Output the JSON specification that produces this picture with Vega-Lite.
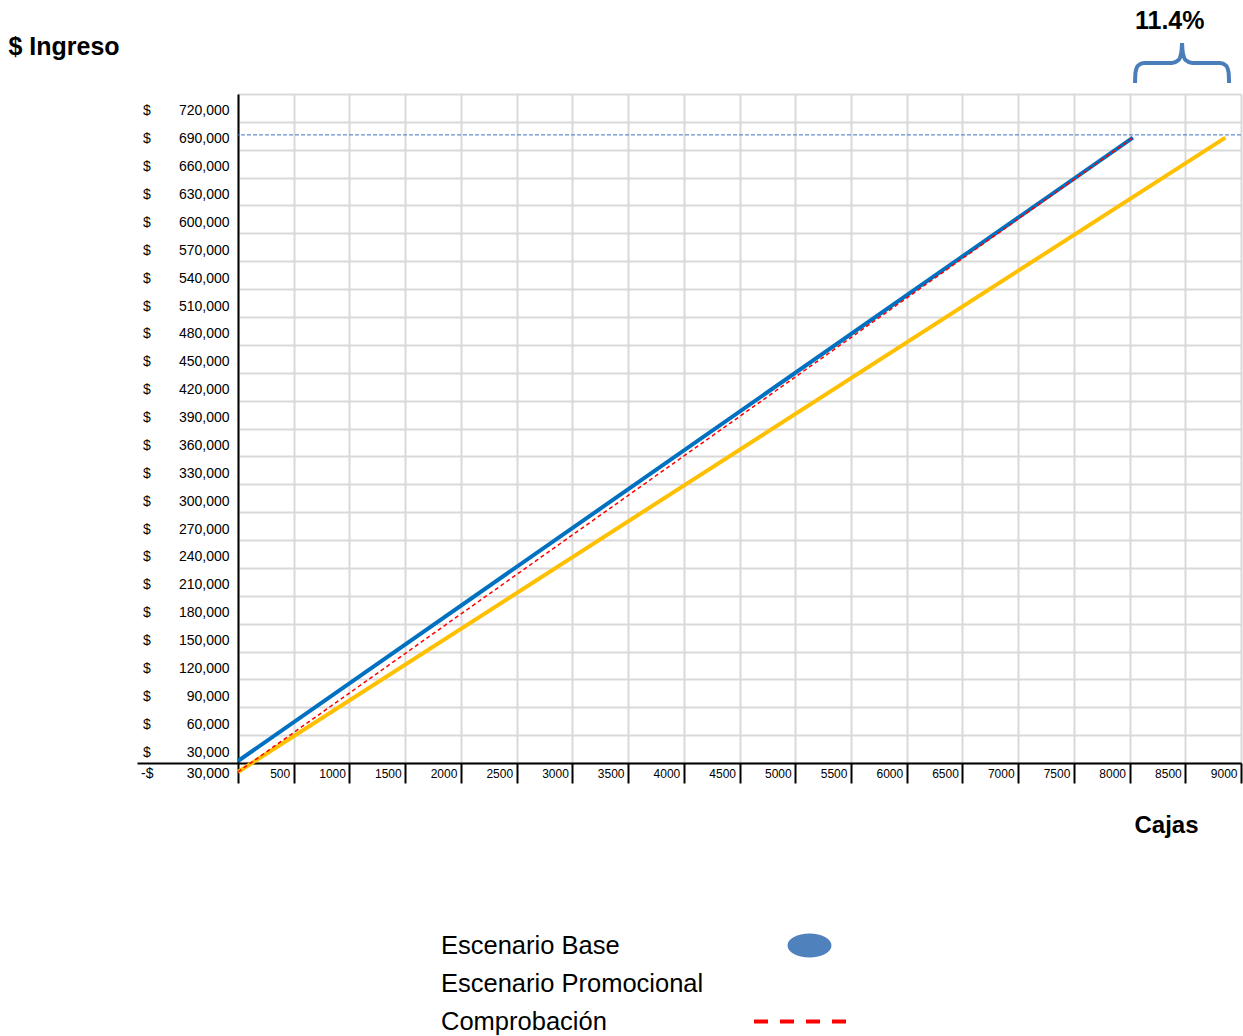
{
  "$schema": "https://vega.github.io/schema/vega-lite/v6.json",
  "autosize": {"type": "none"},
  "padding": {"left": 238, "top": 94, "right": 2, "bottom": 273},
  "width": 1003,
  "height": 669,
  "background": "white",
  "config": {
    "font": "Liberation Sans",
    "view": {"stroke": null},
    "axis": {"labelOverlap": false},
    "legend": {
      "title": null,
      "orient": "none",
      "padding": 0,
      "labelFont": "Liberation Sans",
      "labelFontSize": 25.5,
      "labelColor": "black",
      "labelLimit": 500,
      "labelAlign": "left",
      "symbolSize": 8649,
      "symbolStrokeWidth": 4
    }
  },
  "title": {
    "text": "11.4%",
    "anchor": "start",
    "frame": "group",
    "dx": 897,
    "offset": 0,
    "font": "Liberation Sans",
    "fontSize": 25,
    "fontWeight": "bold",
    "color": "black"
  },
  "datasets": {
    "lineas": [
      {"serie": "Escenario Base", "cajas": 0, "ingreso": 32150},
      {"serie": "Escenario Base", "cajas": 8030, "ingreso": 703000},
      {"serie": "Escenario Promocional", "cajas": 0, "ingreso": 20300},
      {"serie": "Escenario Promocional", "cajas": 8860, "ingreso": 703000},
      {"serie": "Comprobación", "cajas": 0, "ingreso": 20300},
      {"serie": "Comprobación", "cajas": 8030, "ingreso": 703000}
    ],
    "referencia": [{"ingreso": 706000}],
    "llave": [
      {"lado": "izq", "cajas": 8049, "ingreso": 761800},
      {"lado": "izq", "cajas": 8053, "ingreso": 773000},
      {"lado": "izq", "cajas": 8075, "ingreso": 780500},
      {"lado": "izq", "cajas": 8130, "ingreso": 783300},
      {"lado": "izq", "cajas": 8380, "ingreso": 783300},
      {"lado": "izq", "cajas": 8440, "ingreso": 786500},
      {"lado": "izq", "cajas": 8465, "ingreso": 795000},
      {"lado": "izq", "cajas": 8471, "ingreso": 804900},
      {"lado": "der", "cajas": 8471, "ingreso": 804900},
      {"lado": "der", "cajas": 8477, "ingreso": 795000},
      {"lado": "der", "cajas": 8502, "ingreso": 786500},
      {"lado": "der", "cajas": 8562, "ingreso": 783300},
      {"lado": "der", "cajas": 8812, "ingreso": 783300},
      {"lado": "der", "cajas": 8867, "ingreso": 780500},
      {"lado": "der", "cajas": 8889, "ingreso": 773000},
      {"lado": "der", "cajas": 8893, "ingreso": 761800}
    ]
  },
  "layer": [
    {
      "data": {"name": "lineas"},
      "transform": [{"filter": "datum.serie !== 'Comprobación'"}],
      "mark": {"type": "line", "strokeWidth": 4, "strokeCap": "butt"},
      "encoding": {
        "x": {
          "field": "cajas",
          "type": "quantitative",
          "scale": {"domain": [0, 9000], "nice": false, "zero": false},
          "axis": {
            "values": [0, 500, 1000, 1500, 2000, 2500, 3000, 3500, 4000, 4500, 5000, 5500, 6000, 6500, 7000, 7500, 8000, 8500, 9000],
            "tickCount": 100,
            "format": "d",
            "domain": true,
            "domainColor": "black",
            "domainWidth": 2,
            "grid": true,
            "gridColor": "#D9D9D9",
            "gridWidth": 2,
            "ticks": true,
            "tickColor": "black",
            "tickWidth": 2,
            "tickSize": 20,
            "labelAlign": "right",
            "labelBaseline": "middle",
            "labelPadding": -10,
            "labelOffset": {"condition": {"test": "datum.value === 0", "value": -9}, "value": -4},
            "labelFont": "Liberation Sans",
            "labelFontSize": {"condition": {"test": "datum.value === 0", "value": 14}, "value": 12},
            "labelColor": "black",
            "labelExpr": "datum.value === 0 ? '-$\u2003\u2003\u2009\u2006' + '30,000' : datum.label",
            "labelOverlap": false,
            "labelFlush": false,
            "labelBound": false,
            "title": "Cajas",
            "titleX": 928,
            "titleY": 62,
            "titleAlign": "center",
            "titleBaseline": "middle",
            "titleFont": "Liberation Sans",
            "titleFontSize": 24,
            "titleFontWeight": "bold",
            "titleColor": "black"
          }
        },
        "y": {
          "field": "ingreso",
          "type": "quantitative",
          "scale": {"domain": [30000, 750000], "nice": false, "zero": false},
          "axis": {
            "values": [30000, 60000, 90000, 120000, 150000, 180000, 210000, 240000, 270000, 300000, 330000, 360000, 390000, 420000, 450000, 480000, 510000, 540000, 570000, 600000, 630000, 660000, 690000, 720000, 750000],
            "tickCount": 100,
            "domain": true,
            "domainColor": "black",
            "domainWidth": 2,
            "grid": true,
            "gridColor": "#D9D9D9",
            "gridWidth": 2,
            "ticks": true,
            "tickColor": "black",
            "tickWidth": 2,
            "tickSize": {"condition": {"test": "datum.value === 30000", "value": 101}, "value": 0},
            "labelPadding": {"condition": {"test": "datum.value === 30000", "value": -92}, "value": 9},
            "labelOffset": -11,
            "labelAlign": "right",
            "labelBaseline": "middle",
            "labelFont": "Liberation Sans",
            "labelFontSize": 14,
            "labelColor": "black",
            "labelExpr": "datum.value >= 750000 ? '' : '$\u2003\u2002\u2002' + (datum.value < 100000 ? '\u2007' : '') + format(datum.value, ',')",
            "labelOverlap": false,
            "labelFlush": false,
            "labelBound": false,
            "title": "$ Ingreso",
            "titleX": -230,
            "titleY": -48,
            "titleAngle": 0,
            "titleAlign": "left",
            "titleBaseline": "middle",
            "titleFont": "Liberation Sans",
            "titleFontSize": 25,
            "titleFontWeight": "bold",
            "titleColor": "black"
          }
        },
        "color": {
          "field": "serie",
          "type": "nominal",
          "scale": {
            "domain": ["Escenario Base", "Escenario Promocional", "Comprobación"],
            "range": ["#0070C0", "#FFC000", "#FF0000"]
          },
          "legend": null
        }
      }
    },
    {
      "data": {"name": "lineas"},
      "transform": [{"filter": "datum.serie === 'Comprobación'"}],
      "mark": {"type": "line", "strokeWidth": 1.5, "strokeDash": [4, 3]},
      "encoding": {
        "x": {"field": "cajas", "type": "quantitative"},
        "y": {"field": "ingreso", "type": "quantitative"},
        "color": {"field": "serie", "type": "nominal", "legend": null}
      }
    },
    {
      "data": {"name": "referencia"},
      "mark": {"type": "rule", "color": "#4472C4", "strokeWidth": 1, "strokeDash": [4, 2]},
      "encoding": {
        "y": {"field": "ingreso", "type": "quantitative"}
      }
    },
    {
      "data": {"name": "llave"},
      "mark": {"type": "line", "color": "#4A7EBB", "strokeWidth": 4, "interpolate": "monotone", "clip": false},
      "encoding": {
        "x": {"field": "cajas", "type": "quantitative"},
        "y": {"field": "ingreso", "type": "quantitative"},
        "detail": {"field": "lado", "type": "nominal"}
      }
    },
    {
      "data": {"name": "lineas"},
      "transform": [{"filter": "datum.serie === 'Escenario Base'"}],
      "mark": {"type": "point", "filled": true, "opacity": 0},
      "encoding": {
        "x": {"field": "cajas", "type": "quantitative"},
        "y": {"field": "ingreso", "type": "quantitative"},
        "fill": {
          "field": "serie",
          "type": "nominal",
          "scale": {"domain": ["Escenario Base"], "range": ["#4F81BD"]},
          "legend": {
            "legendX": 106,
            "legendY": 803,
            "symbolType": "M-0.473,0A0.473,0.258,0,1,1,0.473,0A0.473,0.258,0,1,1,-0.473,0Z",
            "symbolOpacity": 1,
            "symbolOffset": 417,
            "labelOffset": -417
          }
        }
      }
    },
    {
      "data": {"name": "lineas"},
      "transform": [{"filter": "datum.serie === 'Escenario Promocional'"}],
      "mark": {"type": "point", "opacity": 0},
      "encoding": {
        "x": {"field": "cajas", "type": "quantitative"},
        "y": {"field": "ingreso", "type": "quantitative"},
        "shape": {
          "field": "serie",
          "type": "nominal",
          "scale": {"domain": ["Escenario Promocional"], "range": ["circle"]},
          "legend": {
            "legendX": 106,
            "legendY": 841,
            "symbolOpacity": 0,
            "symbolOffset": 417,
            "labelOffset": -417
          }
        }
      }
    },
    {
      "data": {"name": "lineas"},
      "transform": [{"filter": "datum.serie === 'Comprobación'"}],
      "mark": {"type": "line", "color": "#FF0000", "opacity": 0},
      "encoding": {
        "x": {"field": "cajas", "type": "quantitative"},
        "y": {"field": "ingreso", "type": "quantitative"},
        "strokeDash": {
          "field": "serie",
          "type": "nominal",
          "scale": {"domain": ["Comprobación"], "range": [[14, 12]]},
          "legend": {
            "legendX": 106,
            "legendY": 879,
            "symbolType": "stroke",
            "symbolStrokeColor": "#FF0000",
            "symbolOpacity": 1,
            "symbolOffset": 408,
            "labelOffset": -408
          }
        }
      }
    }
  ]
}
